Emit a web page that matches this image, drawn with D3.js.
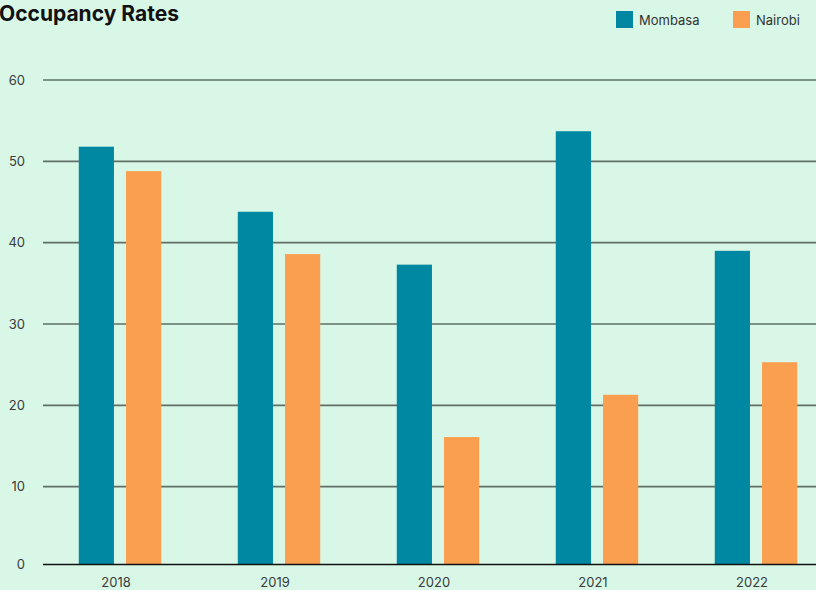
<!DOCTYPE html>
<html>
<head>
<meta charset="utf-8">
<script src="https://cdn.jsdelivr.net/npm/d3@7"></script>
<style>
  body { margin: 0; background: #d8f7e6; overflow: hidden; }
  svg { display: block; font-family: Inter, "Noto Sans", sans-serif; }
</style>
</head>
<body>
<script>
var years = ["2018", "2019", "2020", "2021", "2022"];
var seriesNames = ["Mombasa", "Nairobi"];
var mombasa = [51.8, 43.8, 37.3, 53.7, 39.0];
var nairobi = [48.8, 38.6, 16.1, 21.3, 25.3];
var yTicks = [0, 10, 20, 30, 40, 50, 60];

var width = 816;
var height = 590;
var color = d3.scaleOrdinal().domain(seriesNames).range(["#0088a3", "#fa9f4f"]);

var svg = d3.select("body")
  .append("svg")
  .attr("width", width)
  .attr("height", height);

var y = d3.scaleLinear()
  .domain([0, 60])
  .range([568, 80]);

var x0 = d3.scaleBand()
  .domain(years)
  .range([40.5, 835.5])
  .paddingInner(0);

var x1 = d3.scaleBand()
  .domain(seriesNames)
  .range([0, x0.bandwidth()])
  .paddingInner(12 / 47)
  .paddingOuter(0.81);

var rows = years.map(function(yr, i) {
  return {year: yr, values: [
    {name: "Mombasa", value: mombasa[i]},
    {name: "Nairobi", value: nairobi[i]}
  ]};
});

// gridlines
var grid = svg.append("g").attr("class", "grid");
grid.selectAll("line")
  .data(yTicks.filter(function(d) { return d > 0; }))
  .enter()
  .append("line")
  .attr("x1", 43)
  .attr("x2", width)
  .attr("y1", function(d) { return y(d); })
  .attr("y2", function(d) { return y(d); })
  .attr("stroke", "#5f7166")
  .attr("stroke-width", 1.6);

var baseY = y(0) - 3.5;

// bars
var groups = svg.append("g").selectAll("g")
  .data(rows)
  .enter()
  .append("g")
  .attr("transform", function(d) { return "translate(" + x0(d.year) + ",0)"; });

groups.selectAll("rect")
  .data(function(d) { return d.values; })
  .enter()
  .append("rect")
  .attr("x", function(d) { return x1(d.name); })
  .attr("width", x1.bandwidth())
  .attr("y", function(d) { return y(d.value); })
  .attr("height", function(d) { return baseY - y(d.value); })
  .attr("fill", function(d) { return color(d.name); });

// baseline
svg.append("line")
  .attr("x1", 43)
  .attr("x2", width)
  .attr("y1", baseY)
  .attr("y2", baseY)
  .attr("stroke", "#111")
  .attr("stroke-width", 1.4);

// y labels
svg.append("g").selectAll("text")
  .data(yTicks)
  .enter()
  .append("text")
  .attr("x", 25)
  .attr("y", function(d) { return d === 0 ? baseY : y(d); })
  .attr("dy", "0.35em")
  .attr("text-anchor", "end")
  .attr("font-size", 13)
  .attr("fill", "#3a3a3a")
  .text(function(d) { return d; });

// x labels
svg.append("g").selectAll("text")
  .data(years)
  .enter()
  .append("text")
  .attr("x", function(d) { return x0(d) + x0.bandwidth() / 2 - 4; })
  .attr("y", 587)
  .attr("text-anchor", "middle")
  .attr("font-size", 13)
  .attr("fill", "#3a3a3a")
  .text(function(d) { return d; });

// title
svg.append("text")
  .attr("x", -1)
  .attr("y", 21)
  .attr("font-size", 21)
  .attr("font-weight", "bold")
  .attr("fill", "#111")
  .text("Occupancy Rates");

// legend
var legendX = [616, 733];
var legend = svg.append("g").selectAll("g")
  .data(seriesNames)
  .enter()
  .append("g")
  .attr("transform", function(d, i) { return "translate(" + legendX[i] + ",11)"; });

legend.append("rect")
  .attr("width", 17)
  .attr("height", 17)
  .attr("fill", function(d) { return color(d); });

legend.append("text")
  .attr("x", 23)
  .attr("y", 9)
  .attr("dy", "0.35em")
  .attr("font-size", 13)
  .attr("fill", "#333")
  .text(function(d) { return d; });
</script>
</body>
</html>
